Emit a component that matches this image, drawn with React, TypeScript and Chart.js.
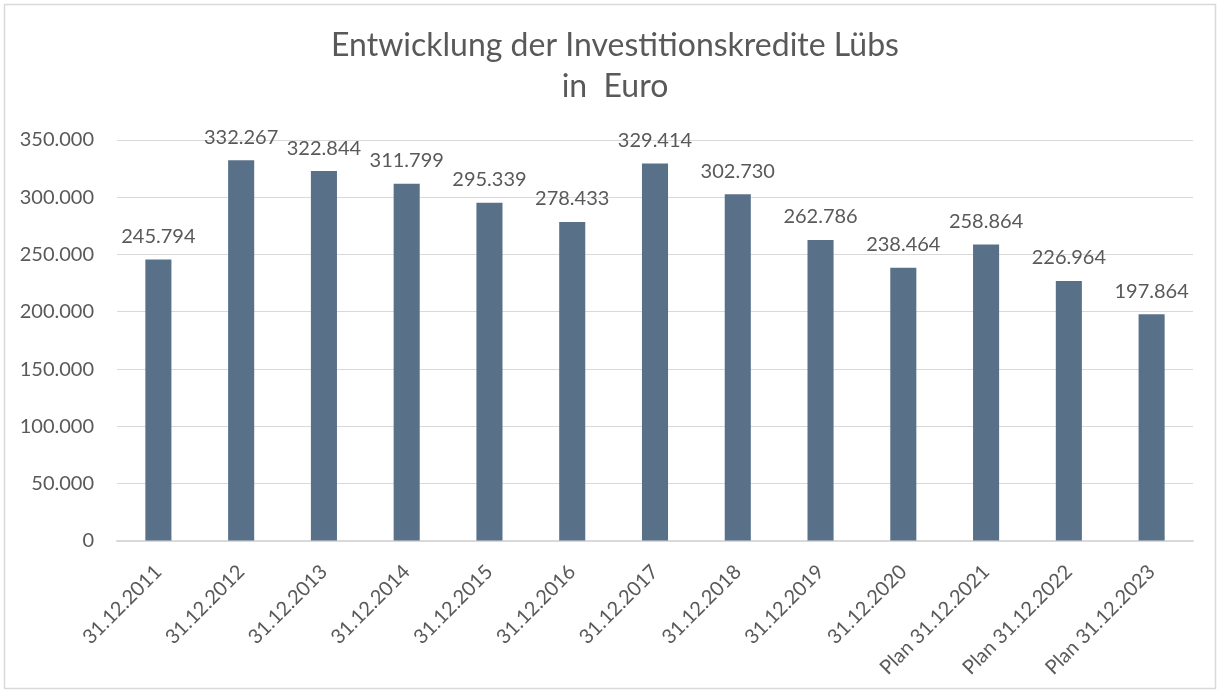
import React, { useEffect, useRef } from "react";
import { Chart, registerables } from "chart.js";

Chart.register(...registerables);

const categories = [
  "31.12.2011", "31.12.2012", "31.12.2013", "31.12.2014", "31.12.2015",
  "31.12.2016", "31.12.2017", "31.12.2018", "31.12.2019", "31.12.2020",
  "Plan 31.12.2021", "Plan 31.12.2022", "Plan 31.12.2023",
];
const values = [
  245794, 332267, 322844, 311799, 295339, 278433, 329414, 302730, 262786,
  238464, 258864, 226964, 197864,
];
const titleLines = ["Entwicklung der Investitionskredite Lübs", "in  Euro"];
const yMax = 350000;
const yStep = 50000;

const FONT = "Lato, 'Open Sans', sans-serif";
const TEXT = "#595959";
const BAR = "rgb(88,113,137)";

function fmt(v: number): string {
  const s = Math.round(v).toString();
  return s.replace(/\B(?=(\d{3})+(?!\d))/g, ".");
}

const decorPlugin = {
  id: "decor",
  beforeDraw(chart: any) {
    const ctx = chart.ctx;
    ctx.save();
    ctx.fillStyle = "#ffffff";
    ctx.fillRect(0, 0, chart.width, chart.height);
    ctx.strokeStyle = "#d9d9d9";
    ctx.lineWidth = 1.5;
    ctx.strokeRect(4.5, 4.5, chart.width - 9, chart.height - 9);
    ctx.restore();
  },
  afterDatasetsDraw(chart: any) {
    const ctx = chart.ctx;
    ctx.save();
    ctx.fillStyle = TEXT;
    ctx.textAlign = "center";
    ctx.textBaseline = "middle";
    ctx.font = `32px ${FONT}`;
    ctx.fillText(titleLines[0], 615, 46);
    ctx.fillText(titleLines[1], 615, 87);
    ctx.font = `20px ${FONT}`;
    const meta = chart.getDatasetMeta(0);
    meta.data.forEach((bar: any, i: number) => {
      ctx.fillText(fmt(values[i]), bar.x, bar.y - 23);
    });
    ctx.restore();
  },
};

export default function App() {
  const ref = useRef<HTMLCanvasElement | null>(null);
  useEffect(() => {
    if (!ref.current) return;
    const chart = new Chart(ref.current, {
      type: "bar",
      data: {
        labels: categories,
        datasets: [
          {
            data: values,
            backgroundColor: BAR,
            barPercentage: 0.315,
            categoryPercentage: 1,
          },
        ],
      },
      options: {
        animation: false,
        responsive: false,
        maintainAspectRatio: false,
        layout: { padding: { left: 10, right: 27, top: 140, bottom: 10 } },
        plugins: {
          legend: { display: false },
          title: { display: false },
          tooltip: { enabled: false },
        },
        scales: {
          x: {
            grid: { display: false },
            border: { display: true, color: "#d9d9d9", width: 1.5 },
            ticks: {
              color: TEXT,
              font: { family: FONT, size: 20 },
              minRotation: 45,
              maxRotation: 45,
              padding: 11,
              autoSkip: false,
            },
            afterFit: (axis: any) => {
              axis.height = 142;
            },
          },
          y: {
            min: 0,
            max: yMax,
            grid: { color: "#d9d9d9", lineWidth: 1, drawTicks: false },
            border: { display: false },
            ticks: {
              stepSize: yStep,
              color: TEXT,
              font: { family: FONT, size: 20 },
              padding: 23,
              callback: (v: any) => fmt(Number(v)),
            },
            afterFit: (axis: any) => {
              axis.width = 107;
            },
          },
        },
      },
      plugins: [decorPlugin],
    });
    return () => chart.destroy();
  }, []);
  return (
    <div style={{ position: "fixed", left: 0, top: 0, width: 1220, height: 693 }}>
      <canvas ref={ref} width={1220} height={693} style={{ width: 1220, height: 693 }} />
    </div>
  );
}
